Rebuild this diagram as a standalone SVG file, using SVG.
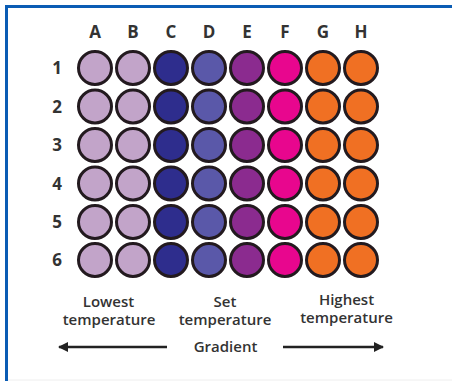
<svg xmlns="http://www.w3.org/2000/svg" width="452" height="381" viewBox="0 0 452 381">
<defs>
<style>
.hdr{font-family:"Open Sans","Liberation Sans",sans-serif;font-weight:700;font-size:17px;fill:#333;text-anchor:middle}
.lbl{font-family:"Open Sans","Liberation Sans",sans-serif;font-weight:600;font-size:15px;fill:#333;text-anchor:middle}
.w{stroke:#231a1f;stroke-width:3}
.a{fill:#c2a4c9}.c{fill:#2e2d8d}.d{fill:#5a58a9}.e{fill:#8b2b8f}.f{fill:#e8068e}.g{fill:#f07023}
.arr{stroke:#222;stroke-width:2.5;fill:none}
</style>
<marker id="ah" viewBox="0 0 10 10" refX="9" refY="5" markerWidth="5" markerHeight="4" orient="auto" markerUnits="strokeWidth">
<path d="M0,0 L10,5 L0,10 Z" fill="#222"/>
</marker>
</defs>
<rect x="0" y="0" width="452" height="381" fill="#fff"/>
<path d="M6.5,381 V6.5 H452" fill="none" stroke="#0a5cb4" stroke-width="3"/>
<line x1="8" y1="380" x2="452" y2="380" stroke="#eee" stroke-width="1"/>
<g id="col-labels">
<text class="hdr" x="95" y="38">A</text>
<text class="hdr" x="133" y="38">B</text>
<text class="hdr" x="171" y="38">C</text>
<text class="hdr" x="209" y="38">D</text>
<text class="hdr" x="247" y="38">E</text>
<text class="hdr" x="285" y="38">F</text>
<text class="hdr" x="323" y="38">G</text>
<text class="hdr" x="361" y="38">H</text>
</g>
<g id="row-labels">
<text class="hdr" x="57" y="74">1</text>
<text class="hdr" x="57" y="112.5">2</text>
<text class="hdr" x="57" y="151">3</text>
<text class="hdr" x="57" y="189.5">4</text>
<text class="hdr" x="57" y="228">5</text>
<text class="hdr" x="57" y="266">6</text>
</g>
<g id="wells" class="w">
<g id="row1">
<circle class="a" cx="95" cy="68" r="16.5"/><circle class="a" cx="133" cy="68" r="16.5"/><circle class="c" cx="171" cy="68" r="16.5"/><circle class="d" cx="209" cy="68" r="16.5"/><circle class="e" cx="247" cy="68" r="16.5"/><circle class="f" cx="285" cy="68" r="16.5"/><circle class="g" cx="323" cy="68" r="16.5"/><circle class="g" cx="361" cy="68" r="16.5"/>
</g>
<g id="row2">
<circle class="a" cx="95" cy="106.5" r="16.5"/><circle class="a" cx="133" cy="106.5" r="16.5"/><circle class="c" cx="171" cy="106.5" r="16.5"/><circle class="d" cx="209" cy="106.5" r="16.5"/><circle class="e" cx="247" cy="106.5" r="16.5"/><circle class="f" cx="285" cy="106.5" r="16.5"/><circle class="g" cx="323" cy="106.5" r="16.5"/><circle class="g" cx="361" cy="106.5" r="16.5"/>
</g>
<g id="row3">
<circle class="a" cx="95" cy="145" r="16.5"/><circle class="a" cx="133" cy="145" r="16.5"/><circle class="c" cx="171" cy="145" r="16.5"/><circle class="d" cx="209" cy="145" r="16.5"/><circle class="e" cx="247" cy="145" r="16.5"/><circle class="f" cx="285" cy="145" r="16.5"/><circle class="g" cx="323" cy="145" r="16.5"/><circle class="g" cx="361" cy="145" r="16.5"/>
</g>
<g id="row4">
<circle class="a" cx="95" cy="183.5" r="16.5"/><circle class="a" cx="133" cy="183.5" r="16.5"/><circle class="c" cx="171" cy="183.5" r="16.5"/><circle class="d" cx="209" cy="183.5" r="16.5"/><circle class="e" cx="247" cy="183.5" r="16.5"/><circle class="f" cx="285" cy="183.5" r="16.5"/><circle class="g" cx="323" cy="183.5" r="16.5"/><circle class="g" cx="361" cy="183.5" r="16.5"/>
</g>
<g id="row5">
<circle class="a" cx="95" cy="222" r="16.5"/><circle class="a" cx="133" cy="222" r="16.5"/><circle class="c" cx="171" cy="222" r="16.5"/><circle class="d" cx="209" cy="222" r="16.5"/><circle class="e" cx="247" cy="222" r="16.5"/><circle class="f" cx="285" cy="222" r="16.5"/><circle class="g" cx="323" cy="222" r="16.5"/><circle class="g" cx="361" cy="222" r="16.5"/>
</g>
<g id="row6">
<circle class="a" cx="95" cy="260" r="16.5"/><circle class="a" cx="133" cy="260" r="16.5"/><circle class="c" cx="171" cy="260" r="16.5"/><circle class="d" cx="209" cy="260" r="16.5"/><circle class="e" cx="247" cy="260" r="16.5"/><circle class="f" cx="285" cy="260" r="16.5"/><circle class="g" cx="323" cy="260" r="16.5"/><circle class="g" cx="361" cy="260" r="16.5"/>
</g>
</g>
<g id="lowest">
<text class="lbl" x="108.5" y="306.5">Lowest</text>
<text class="lbl" x="109" y="325">temperature</text>
</g>
<g id="set">
<text class="lbl" x="225" y="306.5">Set</text>
<text class="lbl" x="225" y="325">temperature</text>
</g>
<g id="highest">
<text class="lbl" x="346.5" y="304.5">Highest</text>
<text class="lbl" x="346.5" y="323">temperature</text>
</g>
<g id="gradient">
<text class="lbl" x="225.5" y="351.5">Gradient</text>
</g>
<g id="connectors">
<line class="arr" x1="167" y1="347" x2="59" y2="347" marker-end="url(#ah)"/>
<line class="arr" x1="283" y1="347" x2="383" y2="347" marker-end="url(#ah)"/>
</g>
</svg>
